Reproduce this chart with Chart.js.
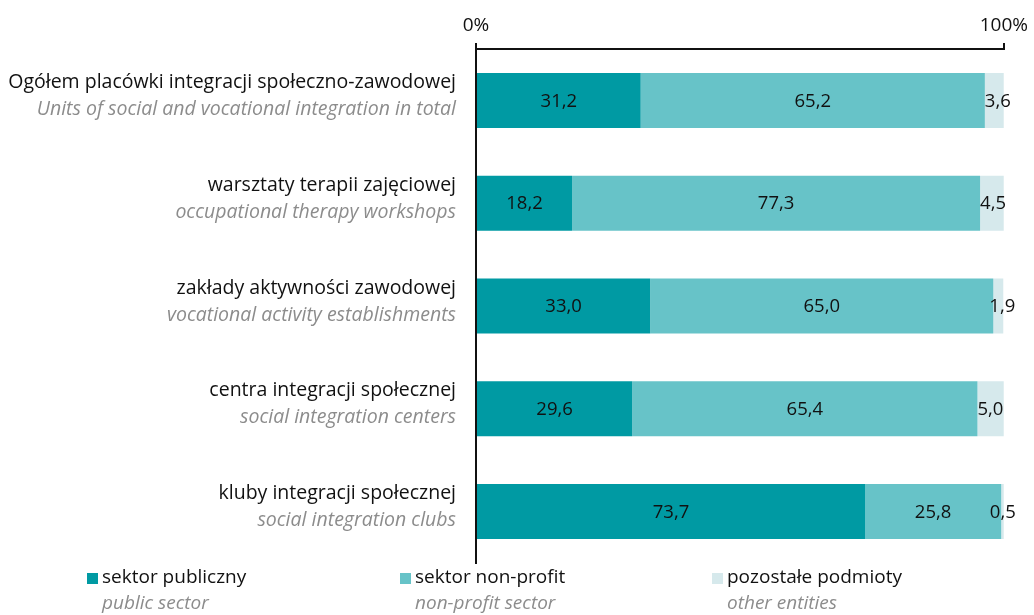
<!DOCTYPE html>
<html>
<head>
<meta charset="utf-8">
<script src="https://cdn.jsdelivr.net/npm/chart.js@4"></script>
<style>
  html, body { margin: 0; padding: 0; background: #fff; }
  #wrap { position: relative; width: 1034px; height: 615px; }
</style>
</head>
<body>
<div id="wrap"><canvas id="chart" width="1034" height="615"></canvas></div>
<script>
// Chart data
const categoriesPl = [
    'Ogółem placówki integracji społeczno-zawodowej',
    'warsztaty terapii zajęciowej',
    'zakłady aktywności zawodowej',
    'centra integracji społecznej',
    'kluby integracji społecznej'
];
const categoriesEn = [
    'Units of social and vocational integration in total',
    'occupational therapy workshops',
    'vocational activity establishments',
    'social integration centers',
    'social integration clubs'
];
const publicSector = [31.2, 18.2, 33.0, 29.6, 73.7];
const nonProfitSector = [65.2, 77.3, 65.0, 65.4, 25.8];
const otherEntities = [3.6, 4.5, 1.9, 5.0, 0.5];
const seriesPl = ['sektor publiczny', 'sektor non-profit', 'pozostałe podmioty'];
const seriesEn = ['public sector', 'non-profit sector', 'other entities'];
const colors = ['#009aa3', '#67c3c8', '#d6e9ec'];
const xTicks = [0, 100];

const FONT = '"Open Sans", Lato, sans-serif';

// Draws value labels, two-line category labels and the legend
const textPlugin = {
    id: 'textPlugin',
    afterDatasetsDraw(chart) {
        const ctx = chart.ctx;
        ctx.save();
        ctx.font = '18.5px ' + FONT;
        ctx.fillStyle = '#111';
        ctx.textBaseline = 'middle';
        chart.data.datasets.forEach((ds, di) => {
            const meta = chart.getDatasetMeta(di);
            meta.data.forEach((bar, i) => {
                const text = ds.data[i].toFixed(1).replace('.', ',');
                if (di < 2) {
                    ctx.textAlign = 'center';
                    ctx.fillText(text, (bar.base + bar.x) / 2, bar.y + 1);
                } else {
                    ctx.textAlign = 'left';
                    ctx.fillText(text, Math.min(bar.base, bar.x - 14), bar.y + 1);
                }
            });
        });
        ctx.restore();
    },
    afterDraw(chart) {
        const ctx = chart.ctx;
        const yScale = chart.scales.y;
        const right = chart.chartArea.left - 20;
        ctx.save();
        ctx.textAlign = 'right';
        ctx.textBaseline = 'middle';
        categoriesPl.forEach((label, i) => {
            const y = yScale.getPixelForValue(i);
            ctx.font = '19.5px ' + FONT;
            ctx.fillStyle = '#111';
            ctx.fillText(label, right, y - 18);
            ctx.font = 'italic 19.5px ' + FONT;
            ctx.fillStyle = '#8c8c8c';
            ctx.fillText(categoriesEn[i], right, y + 9);
        });

        // legend
        const legendX = [87, 400, 712];
        ctx.textAlign = 'left';
        seriesPl.forEach((label, i) => {
            const x = legendX[i];
            ctx.fillStyle = colors[i];
            ctx.fillRect(x, 573, 11, 11);
            ctx.font = '19px ' + FONT;
            ctx.fillStyle = '#111';
            ctx.fillText(label, x + 15, 578);
            ctx.font = 'italic 19px ' + FONT;
            ctx.fillStyle = '#8c8c8c';
            ctx.fillText(seriesEn[i], x + 15, 604);
        });
        ctx.restore();
    }
};

const ctx = document.getElementById('chart').getContext('2d');
new Chart(ctx, {
    type: 'bar',
    data: {
        labels: categoriesPl,
        datasets: [
            { label: seriesPl[0], data: publicSector, backgroundColor: colors[0] },
            { label: seriesPl[1], data: nonProfitSector, backgroundColor: colors[1] },
            { label: seriesPl[2], data: otherEntities, backgroundColor: colors[2] }
        ]
    },
    options: {
        indexAxis: 'y',
        responsive: false,
        animation: false,
        layout: { padding: { left: 476, right: 30, top: 0, bottom: 52 } },
        datasets: { bar: { barPercentage: 0.535, categoryPercentage: 1 } },
        scales: {
            x: {
                position: 'top',
                stacked: true,
                min: 0,
                max: 100,
                afterBuildTicks: scale => {
                    scale.ticks = xTicks.map(v => ({ value: v }));
                },
                afterFit: scale => { scale.height = 49; },
                grid: { drawOnChartArea: false, drawTicks: true, tickLength: 6, color: '#111', lineWidth: 2 },
                border: { display: true, color: '#111', width: 2 },
                ticks: {
                    color: '#111',
                    font: { family: FONT, size: 19 },
                    padding: 6,
                    maxRotation: 0,
                    callback: value => value + '%'
                }
            },
            y: {
                stacked: true,
                afterFit: scale => { scale.width = 0; },
                grid: { display: false },
                border: { display: true, color: '#111', width: 2 },
                ticks: { display: false }
            }
        },
        plugins: {
            legend: { display: false },
            tooltip: { enabled: false }
        }
    },
    plugins: [textPlugin]
});
</script>
</body>
</html>
